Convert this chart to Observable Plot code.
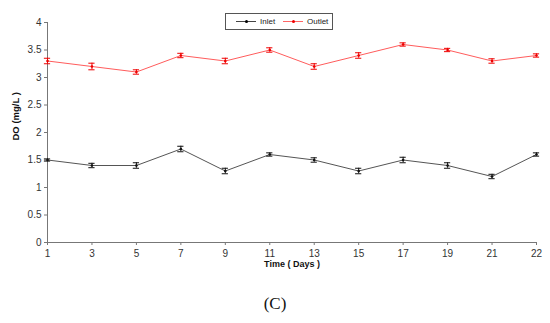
<!DOCTYPE html>
<html>
<head>
<meta charset="utf-8">
<script src="https://cdn.jsdelivr.net/npm/d3@7"></script>
<script src="https://cdn.jsdelivr.net/npm/@observablehq/plot@0.6"></script>
<style>
  body { margin: 0; background: #fff; }
  #wrap { position: relative; width: 550px; height: 323px; }
  #legend { position: absolute; left: 225px; top: 13px; width: 106px; height: 15px; border: 1px solid #555; background: #fff;
    font: 8px "Liberation Sans", Arial, sans-serif; color: #222; }
  .item { position: absolute; top: 0; height: 15px; display: flex; align-items: center; }
  .sw { position: relative; width: 20px; height: 1px; margin-right: 4px; }
  .sw span { position: absolute; left: 9px; top: -1px; width: 3px; height: 3px; border-radius: 50%; }
  #caption { position: absolute; left: 0; width: 550px; top: 294px; text-align: center; font: 17px "Liberation Serif", "Times New Roman", serif; color: #111; }
</style>
</head>
<body>
<div id="wrap">
  <div id="chart"></div>
  <div id="legend">
    <div class="item" style="left:10px"><div class="sw" style="background:#444"><span style="background:#000"></span></div>Inlet</div>
    <div class="item" style="left:57px"><div class="sw" style="background:#ff6666"><span style="background:#e00"></span></div>Outlet</div>
  </div>
  <div id="caption">(C)</div>
</div>
<script>
const days = ["1", "3", "5", "7", "9", "11", "13", "15", "17", "19", "21", "22"];
const inlet = [1.5, 1.4, 1.4, 1.7, 1.3, 1.6, 1.5, 1.3, 1.5, 1.4, 1.2, 1.6];
const inletErr = [0.02, 0.04, 0.05, 0.05, 0.05, 0.03, 0.04, 0.05, 0.05, 0.05, 0.04, 0.03];
const outlet = [3.3, 3.2, 3.1, 3.4, 3.3, 3.5, 3.2, 3.4, 3.6, 3.5, 3.3, 3.4];
const outletErr = [0.05, 0.06, 0.04, 0.04, 0.05, 0.04, 0.05, 0.05, 0.03, 0.03, 0.04, 0.03];
const yTicks = [0, 0.5, 1, 1.5, 2, 2.5, 3, 3.5, 4];

const rows = [];
days.forEach((d, i) => {
  rows.push({i, day: d, series: "Inlet", v: inlet[i], e: inletErr[i]});
  rows.push({i, day: d, series: "Outlet", v: outlet[i], e: outletErr[i]});
});
const lineColor = {Inlet: "#555", Outlet: "#ff5c5c"};
const barColor = {Inlet: "#111", Outlet: "#ee0000"};
const cap = 0.07;

const chart = Plot.plot({
  width: 550,
  height: 275,
  marginTop: 22,
  marginBottom: 33,
  marginLeft: 47,
  marginRight: 14,
  style: {fontFamily: "'Liberation Sans', Arial, sans-serif", fontSize: "10px", color: "#333", background: "#fff"},
  x: {type: "linear", domain: [0, days.length - 1], label: null},
  y: {domain: [0, 4], label: null},
  marks: [
    Plot.ruleX([0], {stroke: "#777"}),
    Plot.ruleY([0], {stroke: "#777"}),
    Plot.axisX({ticks: d3.range(days.length), tickFormat: i => days[i], tickSize: 3, tickPadding: 4, stroke: "#777", fontSize: 10, label: null}),
    Plot.axisY({ticks: yTicks, tickSize: 3, tickPadding: 3, stroke: "#777", fontSize: 10, tickFormat: d => String(d), label: null}),
    Plot.line(rows, {x: "i", y: "v", z: "series", stroke: d => lineColor[d.series], strokeWidth: 1}),
    Plot.ruleX(rows, {x: "i", y1: d => d.v - d.e, y2: d => d.v + d.e, stroke: d => barColor[d.series], strokeWidth: 1}),
    Plot.ruleY(rows, {y: d => d.v - d.e, x1: d => d.i - cap, x2: d => d.i + cap, stroke: d => barColor[d.series], strokeWidth: 1}),
    Plot.ruleY(rows, {y: d => d.v + d.e, x1: d => d.i - cap, x2: d => d.i + cap, stroke: d => barColor[d.series], strokeWidth: 1}),
    Plot.dot(rows, {x: "i", y: "v", r: 1.3, fill: d => barColor[d.series], stroke: null}),
    Plot.text(["DO (mg/L )"], {frameAnchor: "left", dx: -32, dy: 8, rotate: -90, fontWeight: "bold", fontSize: 9.5, fill: "#111"}),
    Plot.text(["Time ( Days )"], {frameAnchor: "bottom", dy: 24, fontWeight: "bold", fontSize: 9, fill: "#111"})
  ]
});
document.getElementById("chart").appendChild(chart);
</script>
</body>
</html>
